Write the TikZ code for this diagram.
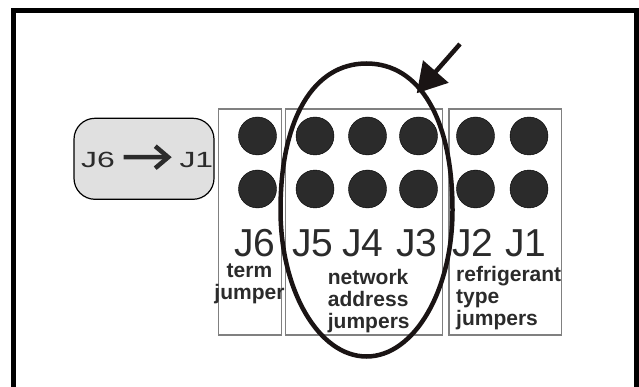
\documentclass[tikz,border=0pt]{standalone}
\usepackage{fontspec}
\setmainfont{Liberation Sans}
\usetikzlibrary{positioning,arrows.meta}

\definecolor{ink}{HTML}{2B2B2B}
\definecolor{edge}{HTML}{808080}
\definecolor{keyfill}{HTML}{E0E0E0}
\definecolor{loopc}{HTML}{1A1414}

\begin{document}
\begin{tikzpicture}[x=1pt, y=-1pt,
  jpin/.style={fill=ink},
  jbox/.style={draw=edge, line width=1.2pt},
  jname/.style={font=\fontsize{39}{39}\selectfont, text=ink, anchor=base, inner sep=0pt},
  note/.style={font=\bfseries\fontsize{21}{22}\selectfont, text=ink, inner sep=0pt},
  keytext/.style={font=\fontsize{22}{22}\selectfont, text=ink, anchor=base west, inner sep=0pt}]
\useasboundingbox (0,0) rectangle (639,387);

% frame
\draw[line width=4.5pt] (13.3,392) -- (13.3,10.3) -- (636.5,10.3) -- (636.5,392);

\def\ya{136}
\def\yb{189}
\def\yc{256}

\def\xa{257.5}
\def\xb{315}
\def\xc{367.5}
\def\xd{418.5}
\def\xe{475.5}
\def\xf{529}

% jumper blocks
\draw[jbox] (218.3,109) rectangle (281.7,335);
\draw[jbox] (285.7,109) rectangle (442.7,335);
\draw[jbox] (449,109) rectangle (561.3,335);

\filldraw[jpin] (\xa,\ya) circle (19pt);
\filldraw[jpin] (\xa,\yb) circle (19pt);
\filldraw[jpin] (\xb,\ya) circle (19pt);
\filldraw[jpin] (\xb,\yb) circle (19pt);
\filldraw[jpin] (\xc,\ya) circle (19pt);
\filldraw[jpin] (\xc,\yb) circle (19pt);
\filldraw[jpin] (\xd,\ya) circle (19pt);
\filldraw[jpin] (\xd,\yb) circle (19pt);
\filldraw[jpin] (\xe,\ya) circle (19pt);
\filldraw[jpin] (\xe,\yb) circle (19pt);
\filldraw[jpin] (\xf,\ya) circle (19pt);
\filldraw[jpin] (\xf,\yb) circle (19pt);

\node[jname] (j6) at (255,\yc) {J6};
\node[jname] (j5) at (312.8,\yc) {J5};
\node[jname] (j4) at (363,\yc) {J4};
\node[jname] (j3) at (416.7,\yc) {J3};
\node[jname] (j2) at (473,\yc) {J2};
\node[jname] (j1) at (525.7,\yc) {J1};

% base of a wrapped note is its last line
\node[note, align=center, anchor=base] (term) at (249.5,299.3) {term\\jumper};
\node[note, align=left, anchor=base west] (network) at (327.7,328.3) {network\\address\\jumpers};
\node[note, align=left, anchor=base west] (refrig) at (456,325) {refrigerant\\type\\jumpers};

% key
\node[draw=black, line width=1.2pt, fill=keyfill, rounded corners=21pt,
  minimum width=140pt, minimum height=81pt] (key) at (144,158.8) {};
\node[keytext] (from) at (81,167.3) {\scalebox{1.45}[1]{J6}};
\node[keytext] (to) at (179.3,167.3) {\scalebox{1.45}[1]{J1}};
\draw[line width=4.5pt, draw=ink, shorten <=8.6pt, shorten >=7.6pt,
  -{Straight Barb[length=13pt,width=22pt]}] ([yshift=2.6pt]from.east) -- ([yshift=2.6pt]to.west);

% loop round the network jumpers
\draw[line width=4.5pt, draw=loopc] (280.5,210) .. controls (280.5,119.2) and (313.2,63.5) .. (366.5,63.5)
  .. controls (419.8,63.5) and (452.5,119.2) .. (452.5,210)
  .. controls (452.5,290.9) and (414,356.5) .. (366.5,356.5)
  .. controls (319,356.5) and (280.5,290.9) .. (280.5,210) -- cycle;

\coordinate (tail) at (460,44);
\coordinate (tip) at (416.7,93.3);
\draw[line width=4.5pt, draw=loopc, fill=loopc, -{Triangle[length=29pt,width=33pt]}] (tail) -- (tip);

\end{tikzpicture}
\end{document}
